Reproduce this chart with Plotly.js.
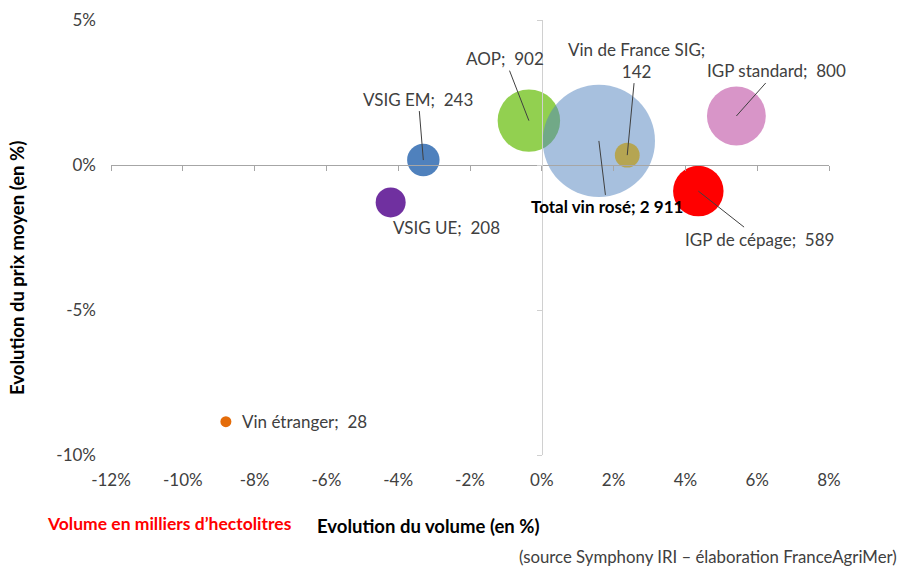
<!DOCTYPE html>
<html>
<head>
<meta charset="utf-8">
<script src="https://cdn.plot.ly/plotly-3.0.1.min.js"></script>
<style>html,body{margin:0;padding:0;background:#fff;}</style>
</head>
<body>
<div id="chart" style="width:901px;height:569px;"></div>
<script>
// ---- data ----
const categories = ['Vin étranger', 'VSIG UE', 'VSIG EM', 'AOP', 'IGP de cépage', 'IGP standard', 'Total vin rosé', 'Vin de France SIG'];
const volumeChange = [-8.80, -4.21, -3.30, -0.36, 4.36, 5.42, 1.59, 2.38];   // % evolution du volume
const priceChange  = [-8.85, -1.29, 0.17, 1.53, -0.90, 1.69, 0.83, 0.34];    // % evolution du prix moyen
const volumes      = [28, 208, 243, 902, 589, 800, 2911, 142];               // milliers d'hl
const xTickVals = [-12, -10, -8, -6, -4, -2, 0, 2, 4, 6, 8];
const xTickText = ['-12%', '-10%', '-8%', '-6%', '-4%', '-2%', '0%', '2%', '4%', '6%', '8%'];
const yTickVals = [-10, -5, 0, 5];
const yTickText = ['-10%', '-5%', '0%', '5%'];

// ---- styles ----
const colors = ['#e46c0a', '#7030a0', '#4f81bd', '#92d050', '#ff0000', '#d895c8', 'rgba(79,129,189,0.5)', '#b5a552'];
// label offsets (px) from the bubble centre, and whether a leader line shows
const labelDx = [79, 56, -5, -24, 61, 40, 8, 9];
const labelDy = [0, 25, -61, -62, 48, -45, 66, -95];
const leader  = [false, false, true, true, true, true, true, true];
const labelBold = [false, false, false, false, false, false, true, false];
const labelBreak = [false, false, false, false, false, false, false, true];

const FONT = 'Lato, "Open Sans", sans-serif';
const TXT = '#404040';

function fmt(v) {
  return v >= 1000 ? Math.floor(v / 1000) + ' ' + String(v % 1000).padStart(3, '0') : String(v);
}

const W = 901, H = 569, L = 111, R = 72, T = 20, B = 114;
const pw = W - L - R, ph = H - T - B;
const px2x = p => (p - L) / pw;
const px2y = p => (H - B - p) / ph;

const trace = {
  type: 'scatter', mode: 'markers',
  x: volumeChange, y: priceChange, text: categories,
  hoverinfo: 'text',
  marker: {
    size: volumes, sizemode: 'area', sizeref: 0.462, opacity: 1,
    color: colors, line: {width: 0}
  },
  showlegend: false
};
const dummy = {type: 'scatter', x: [], y: [], xaxis: 'x2', yaxis: 'y2', showlegend: false, hoverinfo: 'skip'};

const annotations = categories.map((c, i) => {
  const sep = labelBold[i] ? '; ' : ';\u00a0 ';
  let t = c + (labelBreak[i] ? ';<br>' : sep) + fmt(volumes[i]);
  if (labelBold[i]) t = '<b>' + t + '</b>';
  return {
    x: volumeChange[i], y: priceChange[i], xref: 'x', yref: 'y',
    text: t, showarrow: true, arrowhead: 0, arrowwidth: 1,
    arrowcolor: leader[i] ? '#404040' : 'rgba(0,0,0,0)',
    ax: labelDx[i], ay: labelDy[i], standoff: 0,
    font: {family: FONT, size: 17, color: labelBold[i] ? '#000' : TXT},
    align: 'center'
  };
});
annotations.push(
  {xref: 'paper', yref: 'paper', x: px2x(17), y: px2y(268), text: '<b>Evolution du prix moyen (en %)</b>',
   textangle: -90, showarrow: false, font: {family: FONT, size: 18.5, color: '#000'}, xanchor: 'center', yanchor: 'middle'},
  {xref: 'paper', yref: 'paper', x: px2x(428), y: px2y(526), text: '<b>Evolution du volume (en %)</b>',
   showarrow: false, font: {family: FONT, size: 18.5, color: '#000'}, xanchor: 'center', yanchor: 'middle'},
  {xref: 'paper', yref: 'paper', x: px2x(169), y: px2y(523), text: '<b>Volume en milliers d’hectolitres</b>',
   showarrow: false, font: {family: FONT, size: 17.5, color: '#ff0000'}, xanchor: 'center', yanchor: 'middle'},
  {xref: 'paper', yref: 'paper', x: px2x(898), y: px2y(556), text: '(source Symphony IRI – élaboration FranceAgriMer)',
   showarrow: false, font: {family: FONT, size: 16.8, color: TXT}, xanchor: 'right', yanchor: 'middle', borderpad: 0}
);

const layout = {
  width: W, height: H,
  margin: {l: L, r: R, t: T, b: B, pad: 0},
  paper_bgcolor: '#fff', plot_bgcolor: '#fff',
  font: {family: FONT, size: 17, color: TXT},
  xaxis: {
    range: [-12, 8], autorange: false, tickvals: xTickVals, ticktext: xTickText,
    showgrid: false, zeroline: false, showline: false, ticks: '',
    ticklabelstandoff: 13, tickfont: {family: FONT, size: 17, color: TXT}
  },
  yaxis: {
    range: [-10, 5], autorange: false, tickvals: yTickVals, ticktext: yTickText,
    showgrid: false, zeroline: false, showline: false, ticks: '',
    ticklabelstandoff: 14, tickfont: {family: FONT, size: 17, color: TXT}
  },
  xaxis2: {
    overlaying: 'x', anchor: 'free', position: 10 / 15, side: 'bottom',
    range: [-12, 8], autorange: false, tickvals: xTickVals,
    showticklabels: false, showgrid: false, zeroline: false,
    showline: true, linecolor: '#a6a6a6', linewidth: 1,
    ticks: 'outside', ticklen: 5, tickcolor: '#a6a6a6', tickwidth: 1
  },
  yaxis2: {
    overlaying: 'y', anchor: 'free', position: 12 / 20, side: 'left',
    range: [-10, 5], autorange: false, tickvals: yTickVals,
    showticklabels: false, showgrid: false, zeroline: false,
    showline: true, linecolor: '#d0d0d0', linewidth: 1,
    ticks: 'outside', ticklen: 5, tickcolor: '#d0d0d0', tickwidth: 1
  },
  annotations: annotations
};

Plotly.newPlot('chart', [dummy, trace], layout, {displayModeBar: false, staticPlot: true});
</script>
</body>
</html>
